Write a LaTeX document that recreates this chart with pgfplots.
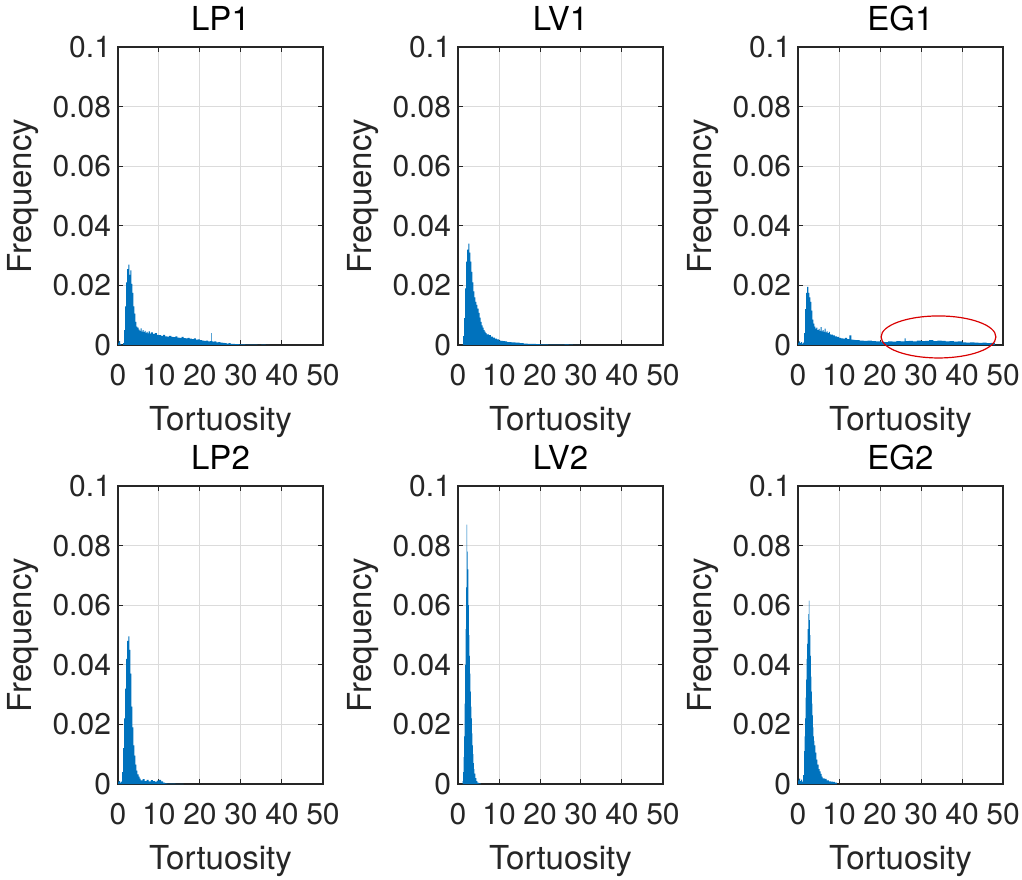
\documentclass[border=0pt]{standalone}
\usepackage{pgfplots}
\pgfplotsset{compat=1.18}
\usepackage{fontspec}
\setmainfont{TeX Gyre Heros}
\definecolor{mblue}{RGB}{0,114,189}
\definecolor{axgray}{RGB}{38,38,38}
\pgfplotsset{
  hist/.style={
    scale only axis, width=102.5pt, height=149pt, anchor=south west,
    xmin=0, xmax=50, ymin=0, ymax=0.1,
    xtick={0,10,20,30,40,50}, xticklabels={0,10,20,30,40,50},
    ytick={0,0.02,0.04,0.06,0.08,0.1}, yticklabels={0,0.02,0.04,0.06,0.08,0.1},
    scaled y ticks=false,
    grid=major, major grid style={draw=black!14, line width=0.5pt},
    tick align=inside, major tick length=2.5pt,
    tick style={color=axgray, line width=0.5pt},
    axis line style={color=axgray, line width=0.6pt},
    tick label style={font=\fontsize{15}{18}\selectfont, text=axgray},
    xticklabel style={yshift=-6pt},
    label style={font=\fontsize{16.5}{20}\selectfont, text=axgray},
    xlabel style={yshift=-3.5pt},
    title style={font=\fontsize{16.5}{20}\selectfont, yshift=-1.5pt},
    xlabel={Tortuosity}, ylabel={Frequency},
  },
  hbar/.style={const plot mark left, fill=mblue, draw=none},
}
\begin{document}
\begin{tikzpicture}
\useasboundingbox (0,0) rectangle (511pt,439.5pt);
% LP1
\begin{axis}[hist, at={(59pt,267pt)}, title={LP1}]
\addplot[hbar] coordinates {(0,0.0008)(0.25,0.0013)(0.5,0.0004)(0.75,0)(1.25,0.0006)(1.5,0.005)(1.75,0.013)(2,0.021)(2.25,0.0255)(2.5,0.027)(2.75,0.0235)(3,0.025)(3.25,0.0205)(3.5,0.0175)(3.75,0.013)(4,0.0105)(4.25,0.0078)(4.5,0.0062)(4.75,0.0058)(5,0.0052)(5.25,0.0047)(5.5,0.0056)(5.75,0.0045)(6,0.0050)(6.25,0.0043)(6.5,0.0047)(6.75,0.0041)(7,0.0044)(7.25,0.0039)(7.5,0.0046)(7.75,0.0038)(8,0.0042)(8.5,0.0037)(9,0.0040)(9.5,0.0034)(10,0.0033)(10.5,0.0031)(11,0.0034)(11.5,0.0029)(12,0.0028)(12.5,0.0031)(13,0.0027)(13.5,0.0026)(14,0.0029)(14.5,0.0025)(15,0.0024)(15.5,0.0027)(16,0.0023)(16.5,0.0022)(17,0.0024)(17.5,0.0021)(18,0.0020)(18.5,0.0022)(19,0.0018)(19.5,0.0019)(20,0.0016)(20.5,0.0015)(21,0.0014)(21.5,0.0015)(22,0.0012)(22.5,0.0013)(22.75,0.0040)(22.9,0.0013)(23,0.0011)(23.5,0.0012)(24,0.0009)(24.5,0.0010)(25,0.0008)(25.5,0.0007)(26,0.0006)(26.5,0.0005)(27,0.0006)(27.5,0.0004)(28,0.0004)(28.5,0.0003)(29,0.0003)(29.5,0.0002)(30,0.0002)(31,0.0001)(32,0.00015)(33,0.0001)(34,0.00005)(35,0.0001)(36,0.00005)(37,0)} \closedcycle;
\end{axis}
% LV1
\begin{axis}[hist, at={(229pt,267pt)}, title={LV1}]
\addplot[hbar] coordinates {(1.0,0)(1.25,0.003)(1.5,0.009)(1.75,0.019)(2,0.028)(2.25,0.032)(2.5,0.034)(2.75,0.031)(3,0.028)(3.25,0.0245)(3.5,0.021)(3.75,0.018)(4,0.016)(4.25,0.0145)(4.5,0.0135)(4.75,0.0122)(5,0.0108)(5.25,0.0092)(5.5,0.0078)(5.75,0.0066)(6,0.0058)(6.25,0.0050)(6.5,0.0045)(6.75,0.0040)(7,0.0036)(7.5,0.0033)(8,0.0028)(8.5,0.0025)(9,0.0021)(9.5,0.0019)(10,0.0015)(10.5,0.0014)(11,0.0013)(11.5,0.0012)(12,0.0010)(13,0.0009)(14,0.0008)(15,0.0006)(16,0.0005)(17,0.0004)(18,0.00035)(19,0.0003)(20,0.0002)(22,0.00015)(24,0.0001)(26,0.0002)(27,0.0001)(28,0.00005)(30,0)} \closedcycle;
\end{axis}
% EG1
\begin{axis}[hist, at={(399pt,267pt)}, title={EG1}, clip=false]
\addplot[hbar] coordinates {(0,0.0008)(0.25,0.0012)(0.5,0.0006)(0.75,0.001)(1,0.0005)(1.25,0.0008)(1.5,0.004)(1.75,0.012)(2,0.0175)(2.25,0.0195)(2.5,0.0175)(2.75,0.016)(3,0.0145)(3.25,0.0115)(3.5,0.0085)(3.75,0.0072)(4,0.0062)(4.25,0.0055)(4.5,0.0058)(4.75,0.0050)(5,0.0054)(5.25,0.0047)(5.5,0.0060)(5.75,0.0046)(6,0.0050)(6.25,0.0044)(6.5,0.0055)(6.75,0.0042)(7,0.0046)(7.25,0.0040)(7.5,0.0044)(7.75,0.0036)(8,0.0035)(8.5,0.0032)(9,0.0029)(9.5,0.0027)(10,0.0024)(10.5,0.0022)(11,0.0021)(11.5,0.0024)(12,0.0020)(12.5,0.0032)(13,0.0018)(13.5,0.0017)(14,0.0016)(15,0.0015)(16,0.0014)(17,0.0015)(18,0.0013)(19,0.0012)(20,0.0011)(21,0.0010)(22,0.0012)(23,0.0011)(24,0.0013)(25,0.0012)(26,0.0022)(26.25,0.0013)(27,0.0014)(28,0.0012)(29,0.0015)(30,0.0013)(31,0.0014)(32,0.0016)(33,0.0013)(34,0.0015)(35,0.0014)(36,0.0012)(37,0.0013)(38,0.0011)(39,0.0012)(40,0.0009)(41,0.0008)(42,0.0009)(43,0.0008)(44,0.0007)(45,0.0008)(46,0.0006)(47,0.0007)(48,0)} \closedcycle;
\draw[color=red!85!black, line width=0.6pt] (axis cs:34.27,0.0027) ellipse [x radius=14.0, y radius=0.00705];
\end{axis}
% LP2
\begin{axis}[hist, at={(59pt,47.5pt)}, title={LP2}]
\addplot[hbar] coordinates {(0,0.0008)(0.25,0.001)(0.5,0.0005)(0.75,0.0008)(1,0.004)(1.25,0.012)(1.5,0.022)(1.75,0.032)(2,0.042)(2.25,0.048)(2.5,0.0495)(2.75,0.045)(3,0.037)(3.25,0.026)(3.5,0.019)(3.75,0.013)(4,0.0095)(4.25,0.0065)(4.5,0.0045)(4.75,0.0032)(5,0.0025)(5.25,0.0018)(5.5,0.0012)(6,0.0016)(6.5,0.0010)(7,0.0014)(7.5,0.0009)(8,0.0013)(8.5,0.0010)(9,0.0008)(9.5,0.0011)(10,0.0014)(10.5,0.0009)(11,0.0005)(11.5,0.0002)(12,0.0001)(14,0.00005)(16,0)} \closedcycle;
\end{axis}
% LV2
\begin{axis}[hist, at={(229pt,47.5pt)}, title={LV2}]
\addplot[hbar] coordinates {(1.125,0.001)(1.25,0.004)(1.375,0.009)(1.5,0.016)(1.625,0.027)(1.75,0.040)(1.875,0.052)(2,0.066)(2.125,0.087)(2.25,0.078)(2.375,0.072)(2.5,0.060)(2.625,0.050)(2.75,0.043)(2.875,0.037)(3,0.031)(3.125,0.026)(3.25,0.022)(3.375,0.017)(3.5,0.013)(3.625,0.010)(3.75,0.007)(3.875,0.005)(4,0.0035)(4.25,0.002)(4.5,0.001)(4.75,0.0005)(5,0.0002)(5.5,0)} \closedcycle;
\end{axis}
% EG2
\begin{axis}[hist, at={(399pt,47.5pt)}, title={EG2}]
\addplot[hbar] coordinates {(0,0.0012)(0.25,0.0018)(0.5,0.001)(0.75,0.0015)(1,0.0008)(1.25,0.003)(1.5,0.011)(1.625,0.016)(1.75,0.022)(1.875,0.029)(2,0.035)(2.125,0.042)(2.25,0.047)(2.375,0.052)(2.5,0.057)(2.625,0.0615)(2.75,0.055)(2.875,0.050)(3,0.043)(3.125,0.036)(3.25,0.031)(3.375,0.027)(3.5,0.023)(3.625,0.019)(3.75,0.016)(3.875,0.0145)(4,0.013)(4.25,0.0105)(4.5,0.0082)(4.75,0.0065)(5,0.005)(5.25,0.0042)(5.5,0.0034)(5.75,0.0025)(6,0.0019)(6.5,0.0017)(7,0.0012)(7.5,0.0009)(8,0.0008)(8.5,0.0007)(9,0.0005)(9.5,0)} \closedcycle;
\end{axis}
\end{tikzpicture}
\end{document}
